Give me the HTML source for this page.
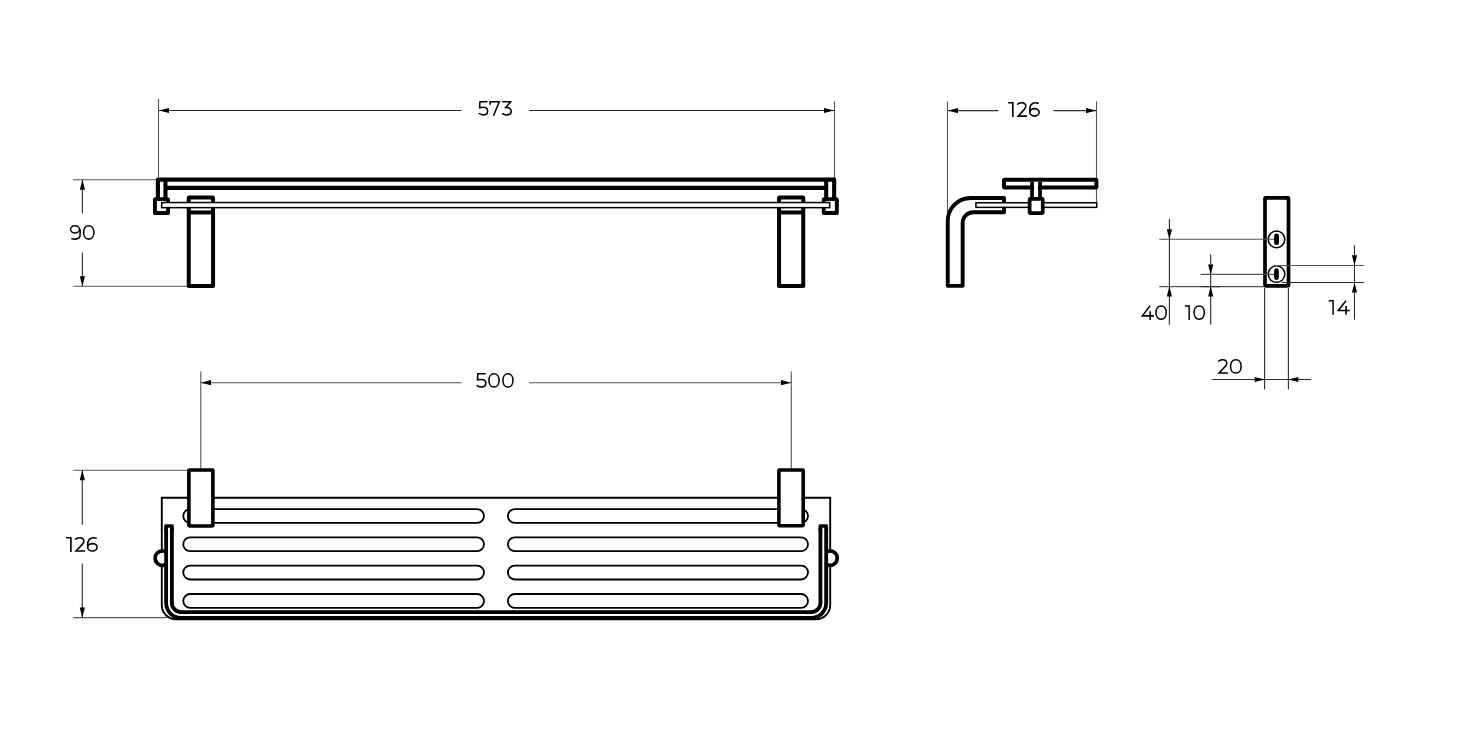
<!DOCTYPE html>
<html><head><meta charset="utf-8"><style>
html,body{margin:0;padding:0;background:#fff;}
svg{display:block;will-change:transform;}
text{font-family:"Liberation Sans", sans-serif;fill:#111;}
</style></head><body>
<svg width="1469" height="732" viewBox="0 0 1469 732">
<rect width="1469" height="732" fill="#fff"/>
<line x1="158.5" y1="99" x2="158.5" y2="180" stroke="#555" stroke-width="1.1"/>
<line x1="834.5" y1="101.4" x2="834.5" y2="178" stroke="#555" stroke-width="1.1"/>
<line x1="159" y1="110.5" x2="461.6" y2="110.5" stroke="#2a2a2a" stroke-width="1.1"/>
<line x1="529" y1="110.5" x2="834" y2="110.5" stroke="#2a2a2a" stroke-width="1.1"/>
<polygon points="159.00,110.50 169.00,107.90 169.00,113.10" fill="#000"/>
<polygon points="834.00,110.50 824.00,107.90 824.00,113.10" fill="#000"/>
<g transform="translate(478.06,100.86) scale(0.9783,0.9920)" fill="none" stroke="#000" stroke-width="1.55" stroke-linejoin="miter" stroke-miterlimit="6"><path d="M9.6,0.825 H1.95 L1.6,6.9 C2.65,6.6 3.9,6.5 5.2,6.5 C7.9,6.5 9.775,8.15 9.775,10.35 C9.775,12.6 7.9,14.175 5.2,14.175 C3.25,14.175 1.75,13.45 0.8,12.55"/></g>
<g transform="translate(489.33,100.86) scale(1.0028,0.9920)" fill="none" stroke="#000" stroke-width="1.55" stroke-linejoin="miter" stroke-miterlimit="6"><path d="M0.825,3.9 V0.825 H9.9 L4.2,15"/></g>
<g transform="translate(501.36,100.86) scale(0.9972,0.9920)" fill="none" stroke="#000" stroke-width="1.55" stroke-linejoin="miter" stroke-miterlimit="6"><path d="M0.9,0.825 H9.3 L4.4,6.7 C7.7,6.55 9.875,8.05 9.875,10.45 C9.875,12.65 8.0,14.175 5.3,14.175 C3.3,14.175 1.75,13.5 0.8,12.6"/></g>
<line x1="73.1" y1="179.7" x2="158" y2="179.7" stroke="#555" stroke-width="1.1"/>
<line x1="73.3" y1="286.3" x2="187" y2="286.3" stroke="#555" stroke-width="1.1"/>
<line x1="82.4" y1="180" x2="82.4" y2="213.4" stroke="#2a2a2a" stroke-width="1.1"/>
<line x1="82.4" y1="252.4" x2="82.4" y2="286" stroke="#2a2a2a" stroke-width="1.1"/>
<polygon points="82.40,179.70 79.80,189.70 85.00,189.70" fill="#000"/>
<polygon points="82.40,286.30 79.80,276.30 85.00,276.30" fill="#000"/>
<g transform="translate(69.73,224.87) scale(1.0000,1.0047)" fill="none" stroke="#000" stroke-width="1.55" stroke-linejoin="miter" stroke-miterlimit="6"><ellipse cx="5.3" cy="4.45" rx="4.475" ry="3.625"/><path d="M10.375,4.45 V9.6 C10.375,12.5 8.55,14.175 5.6,14.175 C3.85,14.175 2.6,14.05 1.55,13.7"/></g>
<g transform="translate(82.80,224.87) scale(0.9917,1.0047)" fill="none" stroke="#000" stroke-width="1.55" stroke-linejoin="miter" stroke-miterlimit="6"><path d="M6.0,0.8250000000000002 C9.105,0.8250000000000002 11.175,3.495 11.175,7.5 C11.175,11.505 9.105,14.175 6.0,14.175 C2.895,14.175 0.8250000000000002,11.505 0.8250000000000002,7.5 C0.8250000000000002,3.495 2.895,0.8250000000000002 6.0,0.8250000000000002 Z"/></g>
<path d="M157.9,198 V179.65 H834.15 V198" fill="none" stroke="#000" stroke-width="4.1" stroke-linejoin="round"/>
<line x1="165.45" y1="179.65" x2="165.45" y2="198" stroke="#000" stroke-width="4.1"/>
<line x1="826.2" y1="179.65" x2="826.2" y2="198" stroke="#000" stroke-width="4.1"/>
<line x1="165.45" y1="187.85" x2="826.2" y2="187.85" stroke="#000" stroke-width="4.1"/>
<rect x="188.75" y="197.55" width="24.30" height="88.45" rx="0.6" fill="#fff" stroke="#000" stroke-width="4.0"/>
<line x1="188.75" y1="212.45" x2="213.05" y2="212.45" stroke="#000" stroke-width="4.0"/>
<rect x="779.05" y="197.55" width="24.20" height="88.45" rx="0.6" fill="#fff" stroke="#000" stroke-width="4.0"/>
<line x1="779.05" y1="212.45" x2="803.25" y2="212.45" stroke="#000" stroke-width="4.0"/>
<rect x="154.95" y="199.15" width="13.10" height="13.90" rx="0.6" fill="#fff" stroke="#000" stroke-width="3.9"/>
<rect x="823.75" y="199.15" width="13.10" height="13.90" rx="0.6" fill="#fff" stroke="#000" stroke-width="3.9"/>
<rect x="161.65" y="202.55" width="668.1" height="5.1" fill="#fff" stroke="#000" stroke-width="1.5"/>
<line x1="947.5" y1="101.3" x2="947.5" y2="212" stroke="#555" stroke-width="1.1"/>
<line x1="1096.5" y1="101.3" x2="1096.5" y2="203" stroke="#555" stroke-width="1.1"/>
<line x1="948" y1="110.6" x2="998.4" y2="110.6" stroke="#2a2a2a" stroke-width="1.1"/>
<line x1="1053.4" y1="110.6" x2="1096" y2="110.6" stroke="#2a2a2a" stroke-width="1.1"/>
<polygon points="948.00,110.60 958.00,108.00 958.00,113.20" fill="#000"/>
<polygon points="1096.00,110.60 1086.00,108.00 1086.00,113.20" fill="#000"/>
<g transform="translate(1008.16,101.90) scale(1.0453,1.0020)" fill="none" stroke="#000" stroke-width="1.55" stroke-linejoin="miter" stroke-miterlimit="6"><path d="M0,0.825 H4.475 V15"/></g>
<g transform="translate(1016.27,101.90) scale(0.9972,1.0020)" fill="none" stroke="#000" stroke-width="1.55" stroke-linejoin="miter" stroke-miterlimit="6"><path d="M0.95,2.75 C1.9,1.45 3.4,0.825 5.3,0.825 C7.95,0.825 9.6,2.4 9.6,4.45 C9.6,5.65 9.05,6.6 7.85,7.75 L1.85,14.175 H10.7"/></g>
<g transform="translate(1028.90,101.90) scale(1.0000,1.0020)" fill="none" stroke="#000" stroke-width="1.55" stroke-linejoin="miter" stroke-miterlimit="6"><ellipse cx="5.55" cy="10.45" rx="4.725" ry="3.725"/><path d="M9.85,1.55 C8.95,1.05 7.8,0.825 6.6,0.825 C3.05,0.825 0.825,3.7 0.825,8.3 V10.45"/></g>
<path d="M947.75,285.85 V221 A23,23 0 0 1 970.75,198 H1004 V212.25 H973.15 A10.5,10.5 0 0 0 962.65,222.75 V285.85 Z" fill="#fff" stroke="#000" stroke-width="3.9" stroke-linejoin="round"/>
<rect x="975.95" y="202.75" width="120.8" height="4.6" fill="#fff" stroke="#000" stroke-width="1.5"/>
<rect x="1004" y="179.7" width="92.40" height="7.70" rx="0.6" fill="#fff" stroke="#000" stroke-width="4.0"/>
<rect x="1033.9" y="181.8" width="4.1" height="18" fill="#fff"/>
<line x1="1032.05" y1="181.7" x2="1032.05" y2="199" stroke="#000" stroke-width="3.7"/>
<line x1="1040.05" y1="181.7" x2="1040.05" y2="199" stroke="#000" stroke-width="3.7"/>
<rect x="1029.65" y="198.85" width="13.10" height="14.30" rx="0.6" fill="#fff" stroke="#000" stroke-width="3.7"/>
<rect x="1265" y="197.8" width="23.50" height="88.00" rx="0.6" fill="#fff" stroke="#000" stroke-width="3.7"/>
<circle cx="1276.5" cy="239.35" r="8.3" fill="#fff" stroke="#000" stroke-width="1.5"/>
<circle cx="1276.5" cy="274.05" r="8.3" fill="#fff" stroke="#000" stroke-width="1.5"/>
<rect x="1274.1" y="233.6" width="4.9" height="11.5" rx="2.45" fill="#000"/>
<rect x="1274.1" y="268.3" width="4.7" height="11.7" rx="2.35" fill="#000"/>
<line x1="1159.3" y1="239.25" x2="1274" y2="239.25" stroke="#555" stroke-width="1.1"/>
<line x1="1159.3" y1="286.6" x2="1264" y2="286.6" stroke="#555" stroke-width="1.1"/>
<line x1="1169.4" y1="219" x2="1169.4" y2="324.8" stroke="#2a2a2a" stroke-width="1.1"/>
<polygon points="1169.40,239.20 1166.80,229.20 1172.00,229.20" fill="#000"/>
<polygon points="1169.40,286.60 1166.80,296.60 1172.00,296.60" fill="#000"/>
<g transform="translate(1141.10,305.10) scale(0.9969,1.0000)" fill="none" stroke="#000" stroke-width="1.55" stroke-linejoin="miter" stroke-miterlimit="6"><path d="M9.0,0.7 L1.3,10.75 H12.9 M9.05,6.1 V15"/></g>
<g transform="translate(1155.15,305.10) scale(0.9925,1.0000)" fill="none" stroke="#000" stroke-width="1.55" stroke-linejoin="miter" stroke-miterlimit="6"><path d="M6.0,0.8250000000000002 C9.105,0.8250000000000002 11.175,3.495 11.175,7.5 C11.175,11.505 9.105,14.175 6.0,14.175 C2.895,14.175 0.8250000000000002,11.505 0.8250000000000002,7.5 C0.8250000000000002,3.495 2.895,0.8250000000000002 6.0,0.8250000000000002 Z"/></g>
<line x1="1200.6" y1="274.4" x2="1274" y2="274.4" stroke="#555" stroke-width="1.1"/>
<line x1="1200.6" y1="286.6" x2="1220" y2="286.6" stroke="#2a2a2a" stroke-width="1.1"/>
<line x1="1210.7" y1="254.3" x2="1210.7" y2="324.8" stroke="#2a2a2a" stroke-width="1.1"/>
<polygon points="1210.70,274.40 1208.10,264.40 1213.30,264.40" fill="#000"/>
<polygon points="1210.70,286.60 1208.10,296.60 1213.30,296.60" fill="#000"/>
<g transform="translate(1184.93,305.10) scale(0.9434,1.0000)" fill="none" stroke="#000" stroke-width="1.55" stroke-linejoin="miter" stroke-miterlimit="6"><path d="M0,0.825 H4.475 V15"/></g>
<g transform="translate(1193.26,305.10) scale(0.9925,1.0000)" fill="none" stroke="#000" stroke-width="1.55" stroke-linejoin="miter" stroke-miterlimit="6"><path d="M6.0,0.8250000000000002 C9.105,0.8250000000000002 11.175,3.495 11.175,7.5 C11.175,11.505 9.105,14.175 6.0,14.175 C2.895,14.175 0.8250000000000002,11.505 0.8250000000000002,7.5 C0.8250000000000002,3.495 2.895,0.8250000000000002 6.0,0.8250000000000002 Z"/></g>
<line x1="1274" y1="265.5" x2="1364" y2="265.5" stroke="#555" stroke-width="1.1"/>
<line x1="1281.8" y1="282.5" x2="1364" y2="282.5" stroke="#2a2a2a" stroke-width="1.1"/>
<line x1="1354.5" y1="245.2" x2="1354.5" y2="319.7" stroke="#2a2a2a" stroke-width="1.1"/>
<polygon points="1354.50,265.30 1351.90,255.30 1357.10,255.30" fill="#000"/>
<polygon points="1354.50,282.50 1351.90,292.50 1357.10,292.50" fill="#000"/>
<g transform="translate(1328.80,300.00) scale(0.9623,0.9867)" fill="none" stroke="#000" stroke-width="1.55" stroke-linejoin="miter" stroke-miterlimit="6"><path d="M0,0.825 H4.475 V15"/></g>
<g transform="translate(1337.00,300.00) scale(1.0000,0.9867)" fill="none" stroke="#000" stroke-width="1.55" stroke-linejoin="miter" stroke-miterlimit="6"><path d="M9.0,0.7 L1.3,10.75 H12.9 M9.05,6.1 V15"/></g>
<line x1="1264.6" y1="288" x2="1264.6" y2="389.6" stroke="#2a2a2a" stroke-width="1.1"/>
<line x1="1288.4" y1="288" x2="1288.4" y2="389.6" stroke="#2a2a2a" stroke-width="1.1"/>
<line x1="1212.2" y1="379.5" x2="1311.1" y2="379.5" stroke="#2a2a2a" stroke-width="1.1"/>
<polygon points="1264.60,379.50 1254.60,376.90 1254.60,382.10" fill="#000"/>
<polygon points="1288.40,379.50 1298.40,376.90 1298.40,382.10" fill="#000"/>
<g transform="translate(1217.20,358.90) scale(1.0000,1.0000)" fill="none" stroke="#000" stroke-width="1.55" stroke-linejoin="miter" stroke-miterlimit="6"><path d="M0.95,2.75 C1.9,1.45 3.4,0.825 5.3,0.825 C7.95,0.825 9.6,2.4 9.6,4.45 C9.6,5.65 9.05,6.6 7.85,7.75 L1.85,14.175 H10.7"/></g>
<g transform="translate(1229.70,358.90) scale(1.0250,1.0000)" fill="none" stroke="#000" stroke-width="1.55" stroke-linejoin="miter" stroke-miterlimit="6"><path d="M6.0,0.8250000000000002 C9.105,0.8250000000000002 11.175,3.495 11.175,7.5 C11.175,11.505 9.105,14.175 6.0,14.175 C2.895,14.175 0.8250000000000002,11.505 0.8250000000000002,7.5 C0.8250000000000002,3.495 2.895,0.8250000000000002 6.0,0.8250000000000002 Z"/></g>
<line x1="200.8" y1="371.5" x2="200.8" y2="469" stroke="#555" stroke-width="1.1"/>
<line x1="791.3" y1="371.5" x2="791.3" y2="469" stroke="#555" stroke-width="1.1"/>
<line x1="201" y1="382.7" x2="461.6" y2="382.7" stroke="#555" stroke-width="1.1"/>
<line x1="529" y1="382.7" x2="791" y2="382.7" stroke="#555" stroke-width="1.1"/>
<polygon points="201.00,382.70 211.00,380.10 211.00,385.30" fill="#000"/>
<polygon points="791.00,382.70 781.00,380.10 781.00,385.30" fill="#000"/>
<g transform="translate(475.90,372.98) scale(1.0189,0.9913)" fill="none" stroke="#000" stroke-width="1.55" stroke-linejoin="miter" stroke-miterlimit="6"><path d="M9.6,0.825 H1.95 L1.6,6.9 C2.65,6.6 3.9,6.5 5.2,6.5 C7.9,6.5 9.775,8.15 9.775,10.35 C9.775,12.6 7.9,14.175 5.2,14.175 C3.25,14.175 1.75,13.45 0.8,12.55"/></g>
<g transform="translate(488.10,372.98) scale(0.9833,0.9913)" fill="none" stroke="#000" stroke-width="1.55" stroke-linejoin="miter" stroke-miterlimit="6"><path d="M6.0,0.8250000000000002 C9.105,0.8250000000000002 11.175,3.495 11.175,7.5 C11.175,11.505 9.105,14.175 6.0,14.175 C2.895,14.175 0.8250000000000002,11.505 0.8250000000000002,7.5 C0.8250000000000002,3.495 2.895,0.8250000000000002 6.0,0.8250000000000002 Z"/></g>
<g transform="translate(502.10,372.98) scale(0.9750,0.9913)" fill="none" stroke="#000" stroke-width="1.55" stroke-linejoin="miter" stroke-miterlimit="6"><path d="M6.0,0.8250000000000002 C9.105,0.8250000000000002 11.175,3.495 11.175,7.5 C11.175,11.505 9.105,14.175 6.0,14.175 C2.895,14.175 0.8250000000000002,11.505 0.8250000000000002,7.5 C0.8250000000000002,3.495 2.895,0.8250000000000002 6.0,0.8250000000000002 Z"/></g>
<line x1="73.3" y1="470.3" x2="188" y2="470.3" stroke="#555" stroke-width="1.1"/>
<line x1="73.3" y1="617.6" x2="167" y2="617.6" stroke="#555" stroke-width="1.1"/>
<line x1="82.3" y1="470.6" x2="82.3" y2="524.8" stroke="#2a2a2a" stroke-width="1.1"/>
<line x1="82.3" y1="563.4" x2="82.3" y2="617.3" stroke="#2a2a2a" stroke-width="1.1"/>
<polygon points="82.30,470.30 79.70,480.30 84.90,480.30" fill="#000"/>
<polygon points="82.30,617.60 79.70,607.60 84.90,607.60" fill="#000"/>
<g transform="translate(66.15,536.87) scale(1.0566,1.0033)" fill="none" stroke="#000" stroke-width="1.55" stroke-linejoin="miter" stroke-miterlimit="6"><path d="M0,0.825 H4.475 V15"/></g>
<g transform="translate(74.18,536.87) scale(1.0056,1.0033)" fill="none" stroke="#000" stroke-width="1.55" stroke-linejoin="miter" stroke-miterlimit="6"><path d="M0.95,2.75 C1.9,1.45 3.4,0.825 5.3,0.825 C7.95,0.825 9.6,2.4 9.6,4.45 C9.6,5.65 9.05,6.6 7.85,7.75 L1.85,14.175 H10.7"/></g>
<g transform="translate(86.80,536.87) scale(1.0090,1.0033)" fill="none" stroke="#000" stroke-width="1.55" stroke-linejoin="miter" stroke-miterlimit="6"><ellipse cx="5.55" cy="10.45" rx="4.725" ry="3.725"/><path d="M9.85,1.55 C8.95,1.05 7.8,0.825 6.6,0.825 C3.05,0.825 0.825,3.7 0.825,8.3 V10.45"/></g>
<path d="M161.8,497.7 H830.2 V605 A14,14 0 0 1 816.2,619.2 H175.8 A14,14 0 0 1 161.8,605 Z" fill="none" stroke="#000" stroke-width="1.9" />
<circle cx="162.4" cy="558.1" r="7.3" fill="#fff" stroke="#000" stroke-width="3.7"/>
<circle cx="830" cy="558.1" r="7.3" fill="#fff" stroke="#000" stroke-width="3.7"/>
<path d="M169,528 V603 A12,12 0 0 0 181,615 H811.3 A12,12 0 0 0 823.3,603 V528" fill="none" stroke="#000" stroke-width="9.6" stroke-linejoin="round"/>
<rect x="164.2" y="524.3" width="9.6" height="8" rx="1.6" fill="#000"/>
<rect x="818.5" y="524.3" width="9.6" height="8" rx="1.6" fill="#000"/>
<path d="M169,527.8 V603 A12,12 0 0 0 181,615 H811.3 A12,12 0 0 0 823.3,603 V527.8" fill="none" stroke="#fff" stroke-width="1.9" />
<rect x="183.25" y="509.10" width="300.75" height="13.8" rx="6.9" fill="none" stroke="#000" stroke-width="1.8"/>
<rect x="507.9" y="509.10" width="300.10" height="13.8" rx="6.9" fill="none" stroke="#000" stroke-width="1.8"/>
<rect x="183.25" y="537.40" width="300.75" height="13.8" rx="6.9" fill="none" stroke="#000" stroke-width="1.8"/>
<rect x="507.9" y="537.40" width="300.10" height="13.8" rx="6.9" fill="none" stroke="#000" stroke-width="1.8"/>
<rect x="183.25" y="565.70" width="300.75" height="13.8" rx="6.9" fill="none" stroke="#000" stroke-width="1.8"/>
<rect x="507.9" y="565.70" width="300.10" height="13.8" rx="6.9" fill="none" stroke="#000" stroke-width="1.8"/>
<rect x="183.25" y="594.00" width="300.75" height="13.8" rx="6.9" fill="none" stroke="#000" stroke-width="1.8"/>
<rect x="507.9" y="594.00" width="300.10" height="13.8" rx="6.9" fill="none" stroke="#000" stroke-width="1.8"/>
<rect x="188.9" y="470.0" width="24.00" height="55.95" rx="0.6" fill="#fff" stroke="#000" stroke-width="3.6"/>
<rect x="778.9" y="470.0" width="24.30" height="55.70" rx="0.6" fill="#fff" stroke="#000" stroke-width="3.6"/>
</svg>
</body></html>
